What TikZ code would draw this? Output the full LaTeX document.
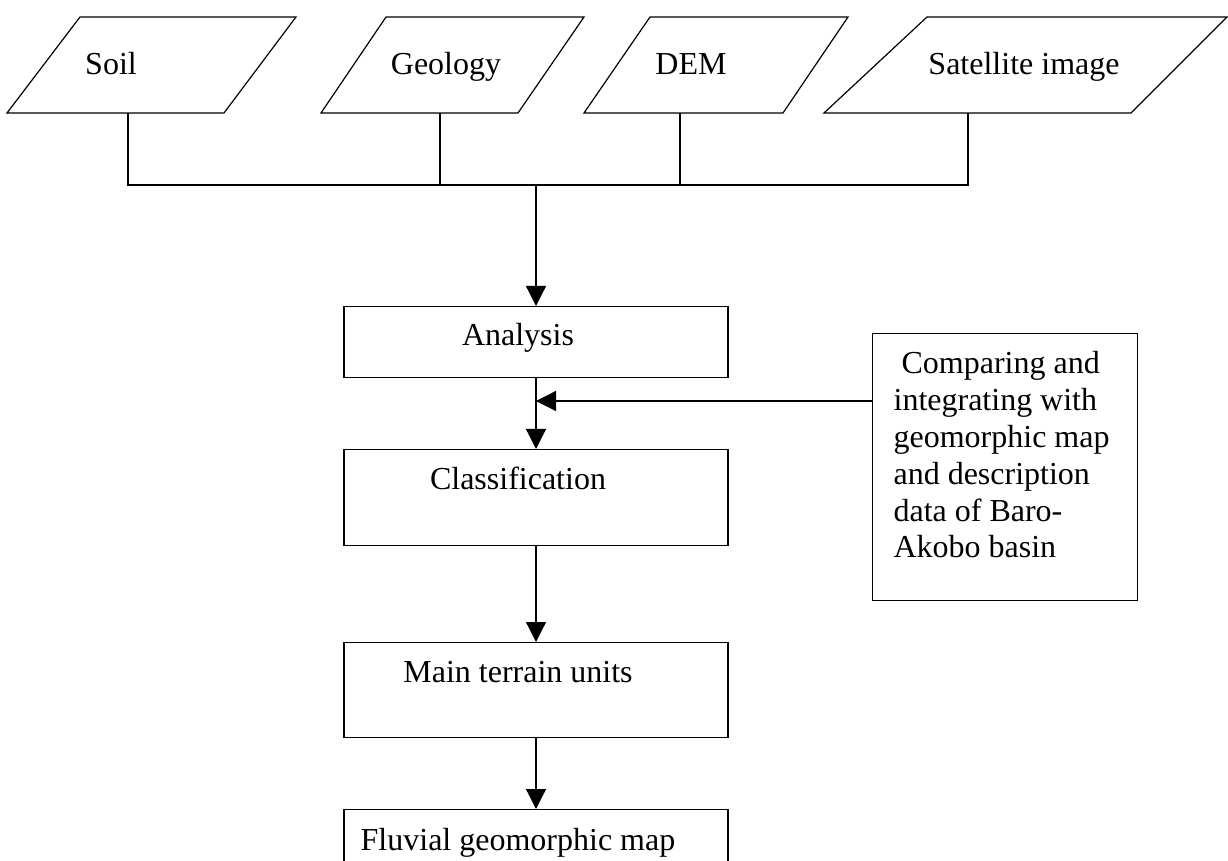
\documentclass[tikz,border=0pt]{standalone}
\usepackage{fontspec}
\setmainfont{Liberation Serif}
\usetikzlibrary{arrows.meta,calc,positioning}

\begin{document}
\begin{tikzpicture}[x=0.5pt,y=-0.5pt,line width=0.6pt,
			every node/.style={font=\fontsize{16}{18.4}\selectfont},
			procbox/.style={draw,anchor=north,inner sep=0pt,minimum width=192pt},
			flow/.style={-{Triangle[length=10pt,width=10pt]}}]
			\useasboundingbox (0,0) rectangle (1228,861);
			\clip (0,0) rectangle (1228,861);
			\draw (80,17) -- (296,17) -- (224,113) -- (7,113) -- cycle;
			\draw (386,17) -- (584,17) -- (518,113) -- (321,113) -- cycle;
			\draw (650,17) -- (848,17) -- (783,113) -- (584,113) -- cycle;
			\draw (927,17) -- (1227,17) -- (1131,113) -- (824,113) -- cycle;
			\node[anchor=base] (soil) at (111,75) {Soil};
			\node[anchor=base] (geol) at (446,75) {Geology};
			\node[anchor=base] (dem) at (691,75) {DEM};
			\node[anchor=base] (sat) at (1024,75) {Satellite image};
			\coordinate (soil-b) at (128,113);
			\coordinate (geol-b) at (440,113);
			\coordinate (dem-b) at (680,113);
			\coordinate (sat-b) at (968,113);
			\coordinate (bus) at (0,185);
			\node[procbox,text height=19.5pt,text depth=16pt] (ana) at (536,306) {Analysis\kern18pt};
			\node[procbox,text height=20pt,text depth=28pt] (cls) at (536,449) {Classification\kern18pt};
			\node[procbox,text height=20pt,text depth=27.5pt] (mtu) at (536,642) {Main terrain units\kern18pt};
			\node[procbox,text height=20.5pt,text depth=30pt] (fgm) at (536,809) {Fluvial geomorphic map\kern18pt};
			\node[draw,anchor=north west,inner sep=0pt,minimum width=132.5pt,minimum height=133.5pt] (cmp) at (872,333) {};
			\node[anchor=north west,inner sep=0pt,align=left] (cmp-txt) at (893,351) {~Comparing and\\integrating with\\geomorphic map\\and description\\data of Baro-\\Akobo basin};
			\coordinate (fb) at ($(cmp.north west)+(0,68)$);
			\draw (soil-b) |- (sat-b |- bus) -- (sat-b);
			\draw (geol-b) -- (geol-b |- bus);
			\draw (dem-b) -- (dem-b |- bus);
			\draw[flow] (ana.north |- bus) -- (ana.north);
			\draw[flow] (ana) -- (cls);
			\draw[flow] (fb) -- (fb -| ana.south);
			\draw[flow] (cls) -- (mtu);
			\draw[flow] (mtu) -- (fgm);
			\end{tikzpicture}
\end{document}
